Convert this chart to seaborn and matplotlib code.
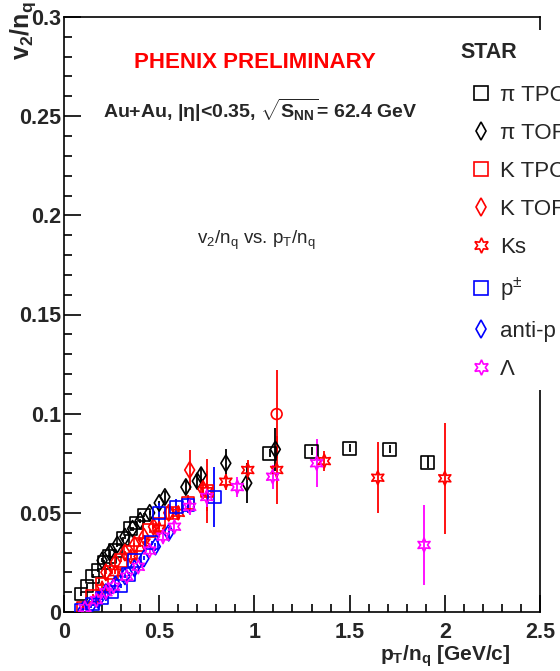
import numpy as np
import matplotlib
matplotlib.use("Agg")
import matplotlib.pyplot as plt
from matplotlib.lines import Line2D
from matplotlib.patches import Rectangle
from matplotlib.ticker import MultipleLocator
import seaborn as sns

# ---- data (x = pT/nq, y = v2/nq) ----
pi_tpc_x = [0.09, 0.12, 0.15, 0.18, 0.21, 0.24, 0.27, 0.31, 0.35, 0.38, 0.42, 1.08, 1.30, 1.50, 1.71, 1.91]
pi_tpc_y = [0.009, 0.013, 0.018, 0.021, 0.025, 0.028, 0.031, 0.037, 0.042, 0.045, 0.049, 0.080, 0.081, 0.0825, 0.082, 0.0755]
pi_tpc_e = [0.001] * 11 + [0.002, 0.002, 0.002, 0.002, 0.003]

pi_tof_x = [0.20, 0.24, 0.28, 0.32, 0.36, 0.40, 0.45, 0.50, 0.53, 0.64, 0.70, 0.72, 0.85, 0.96, 1.11]
pi_tof_y = [0.026, 0.030, 0.034, 0.038, 0.042, 0.046, 0.050, 0.055, 0.058, 0.063, 0.066, 0.069, 0.075, 0.065, 0.082]
pi_tof_e = [0.001] * 8 + [0.003, 0.004, 0.004, 0.004, 0.007, 0.010, 0.011]

k_tpc_x = [0.10, 0.15, 0.20, 0.25, 0.30, 0.35, 0.40, 0.45, 0.50, 0.57, 0.65, 0.75]
k_tpc_y = [0.002, 0.008, 0.014, 0.020, 0.026, 0.030, 0.034, 0.041, 0.044, 0.050, 0.055, 0.061]
k_tpc_e = [0.001] * 8 + [0.002, 0.003, 0.004, 0.016]

k_tof_x = [0.22, 0.27, 0.32, 0.37, 0.42, 0.47, 0.55, 0.66, 0.73]
k_tof_y = [0.020, 0.025, 0.030, 0.034, 0.038, 0.043, 0.050, 0.0716, 0.062]
k_tof_e = [0.001] * 6 + [0.003, 0.010, 0.005]
k_tof_hi_x = [1.117]
k_tof_hi_y = [0.0998]
k_tof_hi_e = [0.022]

ks_x = [0.20, 0.27, 0.35, 0.42, 0.50, 0.60, 0.75, 0.85, 0.965, 1.117, 1.367, 1.648, 2.0]
ks_y = [0.012, 0.020, 0.028, 0.035, 0.042, 0.050, 0.061, 0.0657, 0.0716, 0.0716, 0.0761, 0.0677, 0.0674]
ks_e = [0.001] * 4 + [0.002, 0.003, 0.010, 0.004, 0.005, 0.017, 0.005, 0.018, 0.028]

p_x = [0.09, 0.15, 0.20, 0.25, 0.30, 0.34, 0.37, 0.46, 0.50, 0.59, 0.65, 0.79]
p_y = [0.001, 0.004, 0.007, 0.010, 0.013, 0.019, 0.026, 0.035, 0.050, 0.053, 0.054, 0.058]
p_e = [0.001] * 8 + [0.005, 0.004, 0.004, 0.015]

pbar_x = [0.10, 0.14, 0.18, 0.22, 0.27, 0.32, 0.37, 0.42, 0.48, 0.55]
pbar_y = [0.001, 0.003, 0.006, 0.010, 0.014, 0.018, 0.022, 0.027, 0.033, 0.040]
pbar_e = [0.001] * 8 + [0.002, 0.003]

lam_x = [0.11, 0.17, 0.22, 0.26, 0.33, 0.39, 0.45, 0.52, 0.58, 0.66, 0.75, 0.91, 1.096, 1.327, 1.891]
lam_y = [0.002, 0.006, 0.010, 0.0128, 0.0178, 0.0228, 0.031, 0.038, 0.043, 0.053, 0.058, 0.063, 0.0682, 0.075, 0.0338]
lam_e = [0.001] * 6 + [0.002, 0.002, 0.003, 0.004, 0.005, 0.005, 0.006, 0.012, 0.02]

labels = ["π TPC", "π TOF", "K TPC", "K TOF", "Ks", r"p$^{\pm}$", "anti-p", "Λ"]

STAR6 = (6, 1, 0)

sns.set_theme(style="white")
plt.rcParams["font.family"] = ["Liberation Sans", "DejaVu Sans"]
plt.rcParams["mathtext.fontset"] = "custom"
plt.rcParams["mathtext.rm"] = "Liberation Sans"
plt.rcParams["mathtext.it"] = "Liberation Sans:italic"
plt.rcParams["mathtext.bf"] = "Liberation Sans:bold"

fig = plt.figure(figsize=(5.6, 6.71), dpi=100)
ax = fig.add_axes([64 / 560, 59 / 671, 476 / 560, 595 / 671])

series = [
    (pi_tpc_x, pi_tpc_y, pi_tpc_e, "black", "s", 81),
    (pi_tof_x, pi_tof_y, pi_tof_e, "black", "d", 70),
    (k_tpc_x, k_tpc_y, k_tpc_e, "red", "s", 81),
    (k_tof_x, k_tof_y, k_tof_e, "red", "d", 70),
    (k_tof_hi_x, k_tof_hi_y, k_tof_hi_e, "red", "o", 60),
    (ks_x, ks_y, ks_e, "red", STAR6, 100),
    (p_x, p_y, p_e, "blue", "s", 81),
    (pbar_x, pbar_y, pbar_e, "blue", "d", 70),
    (lam_x, lam_y, lam_e, "magenta", STAR6, 100),
]

for x, y, e, c, m, s in series:
    ax.errorbar(x, y, yerr=e, fmt="none", ecolor=c, elinewidth=1.3, capsize=0, zorder=2)
    sns.scatterplot(x=x, y=y, marker=m, s=s, color=c, facecolor="none",
                    edgecolor=c, linewidth=1.2, ax=ax, zorder=3, legend=False)

ax.set_xlim(0, 2.5)
ax.set_ylim(0, 0.3)
ax.xaxis.set_minor_locator(MultipleLocator(0.1))
ax.yaxis.set_minor_locator(MultipleLocator(0.01))
ax.set_xticks([0, 0.5, 1, 1.5, 2, 2.5])
ax.set_xticklabels(["0", "0.5", "1", "1.5", "2", "2.5"])
ax.set_yticks([0, 0.05, 0.1, 0.15, 0.2, 0.25, 0.3])
ax.set_yticklabels(["0", "0.05", "0.1", "0.15", "0.2", "0.25", "0.3"])
ax.tick_params(which="both", direction="in", left=True, bottom=True, top=False, right=False,
               color="black", width=1.2)
ax.tick_params(which="major", length=12, labelsize=15.5)
ax.tick_params(which="minor", length=6)
ax.tick_params(axis="x", which="major", pad=7)
ax.tick_params(axis="y", which="major", pad=2)
for lab in ax.get_xticklabels() + ax.get_yticklabels():
    lab.set_fontweight("bold")
for sp in ax.spines.values():
    sp.set_color("black")
    sp.set_linewidth(1.2)

# texts
fig.text(255 / 560, 1 - 63 / 671, "PHENIX PRELIMINARY", color="red", fontsize=16,
         fontweight="bold", ha="center", va="center")
fig.text(103 / 560, 1 - 110 / 671,
         r"Au+Au, |$\mathbf{\eta}$|<0.35, $\sqrt{\mathbf{S_{NN}}}$= 62.4 GeV",
         fontsize=14, fontweight="bold", ha="left", va="center")
fig.text(256 / 560, 1 - 240 / 671,
         r"v$_2$/n$_\mathrm{q}$ vs. p$_\mathrm{T}$/n$_\mathrm{q}$", fontsize=13.5,
         ha="center", va="center")
fig.text(23 / 560, 1 - 1 / 671, r"$\mathbf{v_2/n_q}$", fontsize=18, rotation=90,
         ha="center", va="top")
fig.text(510 / 560, 1 - 661 / 671, r"$\mathbf{p_T/n_q}$ [GeV/c]", fontsize=15,
         fontweight="bold", ha="right", va="baseline")

# white box behind the legend (covers the right frame like the original)
fig.patches.append(Rectangle((450 / 560, 1 - 390 / 671), 110 / 560, 360 / 671,
                             transform=fig.transFigure, facecolor="white",
                             edgecolor="none", zorder=4))
fig.text(460 / 560, 1 - 52 / 671, "STAR", fontsize=15.5, fontweight="bold",
         ha="left", va="center", zorder=6)

# legend
handles = [
    Line2D([], [], ls="none", marker="s", ms=10, mfc="none", mec="black", mew=1.2),
    Line2D([], [], ls="none", marker="d", ms=9, mfc="none", mec="black", mew=1.2),
    Line2D([], [], ls="none", marker="s", ms=10, mfc="none", mec="red", mew=1.2),
    Line2D([], [], ls="none", marker="d", ms=9, mfc="none", mec="red", mew=1.2),
    Line2D([], [], ls="none", marker=STAR6, ms=11, mfc="none", mec="red", mew=1.2),
    Line2D([], [], ls="none", marker="s", ms=10, mfc="none", mec="blue", mew=1.2),
    Line2D([], [], ls="none", marker="d", ms=9, mfc="none", mec="blue", mew=1.2),
    Line2D([], [], ls="none", marker=STAR6, ms=11, mfc="none", mec="magenta", mew=1.2),
]
leg = fig.legend(handles, labels, loc="upper left", bbox_to_anchor=(452 / 560, 1 - 67 / 671),
                 fontsize=16, frameon=False, labelspacing=0.77, handletextpad=0.35,
                 handlelength=1.0, borderpad=0.3)
leg.set_zorder(6)

fig.savefig("out.png", dpi=100)
